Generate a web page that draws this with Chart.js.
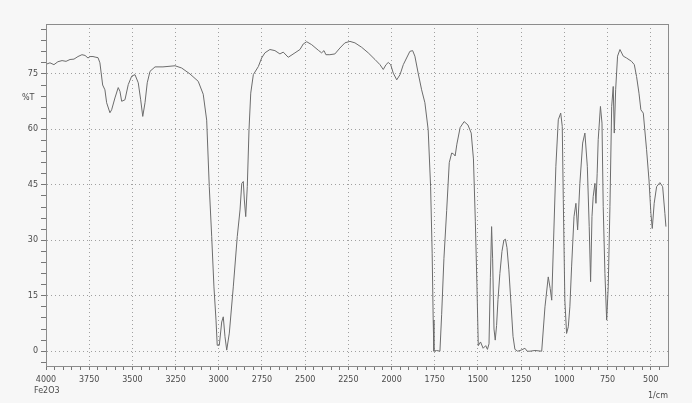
<!DOCTYPE html>
<html>
<head>
<meta charset="utf-8">
<script src="https://cdn.jsdelivr.net/npm/chart.js@4"></script>
<style>
  html, body { margin: 0; padding: 0; background: #f7f7f7; }
  #wrap { width: 692px; height: 403px; position: relative; }
</style>
</head>
<body>
<div id="wrap"><canvas id="irChart"></canvas></div>
<script>
// IR spectrum: wavenumber (1/cm) and %T
const wavenumbers = [
    4000, 3977, 3954, 3931, 3907, 3884, 3861, 3838, 3815, 3792, 3774, 3757, 3745, 3728, 3711, 3699,
    3688, 3672, 3659, 3649, 3630, 3620, 3601, 3582, 3572, 3562, 3543, 3524, 3504, 3485, 3466, 3452,
    3440, 3427, 3414, 3398, 3369, 3323, 3253, 3215, 3167, 3119, 3090, 3070, 3055, 3041, 3028, 3016,
    3009, 2997, 2983, 2974, 2964, 2954, 2939, 2916, 2893, 2877, 2867, 2858, 2852, 2844, 2835, 2825,
    2815, 2800, 2771, 2752, 2733, 2704, 2675, 2646, 2627, 2598, 2559, 2530, 2511, 2491, 2462, 2424,
    2405, 2391, 2380, 2357, 2328, 2299, 2270, 2241, 2212, 2173, 2135, 2096, 2067, 2048, 2032, 2019,
    2005, 1990, 1970, 1951, 1932, 1913, 1894, 1878, 1865, 1846, 1826, 1807, 1788, 1774, 1765, 1759,
    1755, 1740, 1720, 1710, 1697, 1681, 1666, 1652, 1642, 1632, 1622, 1603, 1580, 1558, 1539, 1526,
    1515, 1506, 1498, 1485, 1470, 1455, 1445, 1436, 1428, 1421, 1415, 1407, 1400, 1392, 1384, 1373,
    1361, 1350, 1341, 1332, 1321, 1309, 1297, 1286, 1270, 1250, 1228, 1215, 1199, 1170, 1131, 1112,
    1093, 1082, 1073, 1064, 1049, 1035, 1021, 1012, 1006, 997, 987, 977, 968, 958, 944, 933,
    923, 910, 894, 881, 867, 856, 848, 840, 833, 823, 817, 810, 804, 791, 782, 775,
    765, 755, 746, 736, 726, 717, 711, 703, 692, 678, 659, 640, 611, 595, 582, 568,
    557, 543, 524, 510, 499, 491, 480, 466, 447, 431, 418, 412
];
const transmittance = [
    77.6, 78.0, 77.5, 78.3, 78.6, 78.4, 78.9, 79.0, 79.7, 80.2, 80.0, 79.3, 79.7, 79.7, 79.5, 79.4,
    78.0, 72.0, 70.7, 67.2, 64.5, 65.3, 68.5, 71.3, 70.3, 67.6, 68.0, 72.1, 74.4, 74.8, 72.6, 68.0,
    63.5, 67.2, 72.6, 75.7, 76.9, 76.9, 77.2, 76.6, 75.0, 73.0, 69.5, 62.5, 44.5, 31.0, 17.4, 8.4,
    1.6, 1.6, 7.9, 9.3, 3.9, 0.3, 4.9, 17.4, 31.0, 38.2, 45.4, 45.9, 40.9, 36.4, 44.5, 59.9,
    69.8, 74.8, 77.0, 79.3, 80.7, 81.6, 81.3, 80.4, 80.9, 79.5, 80.7, 81.6, 83.1, 83.7, 82.9, 81.4,
    80.7, 81.3, 80.2, 80.2, 80.4, 82.0, 83.4, 83.8, 83.4, 82.2, 80.7, 78.9, 77.5, 76.2, 77.5, 78.1,
    77.5, 75.2, 73.4, 74.8, 77.5, 79.3, 81.1, 81.3, 79.8, 75.2, 70.7, 67.2, 59.9, 44.5, 26.5, 8.4,
    0.0, 0.2, 0.0, 10.0, 25.0, 38.0, 51.0, 53.6, 53.4, 52.8, 56.0, 60.5, 62.1, 61.2, 59.0, 52.0,
    35.0, 18.0, 1.5, 2.5, 0.8, 1.5, 0.5, 2.0, 20.0, 33.7, 25.0, 6.0, 3.0, 7.0, 14.0, 21.0,
    27.0, 30.0, 30.3, 28.0, 22.0, 13.0, 4.0, 0.5, 0.0, 0.3, 0.8, 0.0, 0.0, 0.2, 0.0, 12.0,
    20.1, 17.0, 13.8, 27.4, 50.0, 62.6, 64.4, 60.8, 41.0, 13.8, 4.8, 6.6, 12.0, 22.8, 36.4, 40.0,
    32.8, 45.4, 56.3, 59.0, 50.0, 33.7, 18.8, 36.4, 41.8, 45.4, 40.0, 48.0, 57.2, 66.2, 61.7, 39.1,
    21.0, 8.4, 17.4, 39.1, 66.2, 71.6, 59.0, 70.7, 79.8, 81.6, 79.8, 79.3, 78.4, 77.5, 74.3, 69.8,
    65.3, 64.4, 54.5, 46.3, 37.3, 33.2, 40.0, 44.5, 45.6, 44.5, 37.3, 33.7
];

// labelled ticks
const xTickLabels = [4000, 3750, 3500, 3250, 3000, 2750, 2500, 2250, 2000, 1750, 1500, 1250, 1000, 750, 500];
const yTickLabels = [0, 15, 30, 45, 60, 75];

const lineColor = '#6c6c6c';
const textColor = '#4a4a4a';
const gridColor = '#a0a0a0';

// frame + loose text on the sheet
const sheetPlugin = {
    id: 'sheet',
    afterDraw(chart) {
        const { ctx, chartArea } = chart;
        ctx.save();
        ctx.strokeStyle = '#8c8c8c';
        ctx.lineWidth = 1;
        ctx.strokeRect(chartArea.left + 0.5, chartArea.top + 0.5,
            chartArea.right - chartArea.left, chartArea.bottom - chartArea.top);
        ctx.fillStyle = textColor;
        ctx.font = '8px "DejaVu Sans"';
        ctx.textBaseline = 'middle';
        ctx.textAlign = 'left';
        ctx.fillText('%T', 22, 98);
        ctx.fillText('Fe2O3', 34, 391);
        ctx.fillText('1/cm', 648, 396);
        ctx.restore();
    }
};

const ctx = document.getElementById('irChart').getContext('2d');

new Chart(ctx, {
    type: 'line',
    data: {
        datasets: [{
            data: wavenumbers.map((w, i) => ({ x: w, y: transmittance[i] })),
            borderColor: lineColor,
            borderWidth: 1,
            pointRadius: 0,
            tension: 0,
            fill: false
        }]
    },
    options: {
        responsive: true,
        maintainAspectRatio: false,
        animation: false,
        layout: { padding: { top: 24, right: 24, left: 0, bottom: 0 } },
        plugins: {
            legend: { display: false },
            tooltip: { enabled: false }
        },
        scales: {
            x: {
                type: 'linear',
                reverse: true,
                min: 400,
                max: 4000,
                afterBuildTicks: scale => {
                    const t = [];
                    for (let v = 4000; v >= 450; v -= 50) t.push({ value: v });
                    scale.ticks = t;
                },
                afterFit: scale => { scale.height = 37; },
                grid: {
                    color: c => (xTickLabels.includes(c.tick.value) && c.tick.value !== 4000) ? gridColor : 'transparent',
                    tickColor: '#777',
                    tickLength: 4,
                    lineWidth: 1
                },
                border: { display: true, color: '#777', dash: [1, 3] },
                ticks: {
                    autoSkip: false,
                    maxRotation: 0,
                    padding: 5,
                    color: textColor,
                    font: { family: 'DejaVu Sans', size: 8 },
                    callback: v => xTickLabels.includes(v) ? String(v) : ''
                }
            },
            y: {
                min: -4,
                max: 88.5,
                afterBuildTicks: scale => {
                    const t = [];
                    for (let v = -3; v <= 87; v += 3) t.push({ value: v });
                    scale.ticks = t;
                },
                afterFit: scale => { scale.width = 46; },
                grid: {
                    color: c => yTickLabels.includes(c.tick.value) ? gridColor : 'transparent',
                    tickColor: '#777',
                    tickLength: 5,
                    lineWidth: 1
                },
                border: { display: true, color: '#777', dash: [1, 3] },
                ticks: {
                    autoSkip: false,
                    padding: 3,
                    color: textColor,
                    font: { family: 'DejaVu Sans', size: 8 },
                    callback: v => yTickLabels.includes(v) ? String(v) : ''
                }
            }
        }
    },
    plugins: [sheetPlugin]
});
</script>
</body>
</html>
